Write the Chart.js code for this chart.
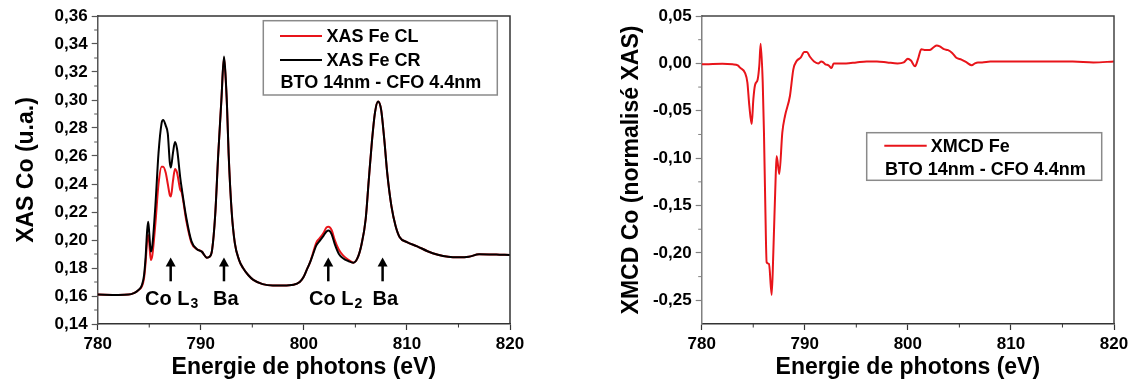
<!DOCTYPE html>
<html><head><meta charset="utf-8">
<script src="https://cdn.jsdelivr.net/npm/chart.js@4"></script>
<style>
body{margin:0;background:#fff;width:1135px;height:386px;overflow:hidden;position:relative}
#c1{position:absolute;left:0;top:0}
#c2{position:absolute;left:580px;top:0}
</style>
</head><body>
<canvas id="c1" width="560" height="386"></canvas>
<canvas id="c2" width="555" height="386"></canvas>
<script>
// ---------- DATA ----------
const energyXAS = [780,782,783,783.5,784,784.3,784.5,784.65,784.8,784.9,785.0,785.15,785.3,785.6,785.9,786.2,786.35,786.6,786.8,787.0,787.1,787.3,787.5,787.7,788.0,788.15,788.6,789.1,789.6,790.1,790.6,790.85,791.1,791.4,791.7,792.0,792.25,792.4,792.55,792.7,793.0,793.3,793.7,794.1,794.6,795.1,796,797,798,799,799.6,800.0,800.3,800.6,800.9,801.2,801.5,801.9,802.2,802.4,802.7,803.0,803.4,803.8,804.3,804.8,805.2,805.6,806.0,806.3,806.6,806.9,807.2,807.5,807.8,808.1,808.5,808.9,809.3,810,811,812,813,814,815,816,817,818,819,820];
const xasCR = [0.161,0.1608,0.161,0.162,0.1645,0.168,0.175,0.188,0.207,0.213,0.205,0.1917,0.196,0.225,0.262,0.2835,0.2857,0.2817,0.276,0.255,0.2517,0.262,0.270,0.265,0.245,0.237,0.2157,0.199,0.1936,0.1917,0.1874,0.188,0.193,0.218,0.262,0.300,0.331,0.318,0.295,0.262,0.220,0.198,0.186,0.180,0.175,0.1715,0.1685,0.1675,0.1675,0.168,0.170,0.174,0.179,0.184,0.190,0.196,0.199,0.203,0.206,0.2067,0.204,0.197,0.190,0.187,0.185,0.1838,0.187,0.197,0.215,0.243,0.270,0.291,0.299,0.293,0.272,0.247,0.224,0.210,0.202,0.1985,0.1955,0.192,0.1895,0.188,0.1876,0.188,0.1898,0.1897,0.1895,0.1893];
const xasCL = [0.161,0.1608,0.161,0.162,0.1645,0.167,0.173,0.184,0.200,0.2036,0.198,0.1857,0.189,0.212,0.240,0.2524,0.2524,0.248,0.240,0.232,0.231,0.242,0.2507,0.248,0.236,0.234,0.2136,0.198,0.1936,0.1917,0.1874,0.188,0.193,0.218,0.262,0.300,0.330,0.317,0.294,0.262,0.220,0.198,0.186,0.180,0.175,0.1715,0.1685,0.1675,0.1675,0.168,0.170,0.174,0.179,0.184,0.191,0.198,0.201,0.205,0.209,0.2095,0.207,0.200,0.193,0.189,0.186,0.1838,0.187,0.197,0.215,0.243,0.270,0.291,0.299,0.293,0.272,0.247,0.224,0.210,0.202,0.1985,0.1955,0.192,0.1895,0.188,0.1876,0.188,0.1898,0.1897,0.1895,0.1893];

const energyXMCD = [780,782,783,783.5,783.72,784.2,784.43,784.62,784.85,785.01,785.17,785.43,785.59,785.72,785.92,786.04,786.17,786.3,786.53,786.79,786.95,787.18,787.27,787.53,787.82,788.08,788.56,788.89,789.21,789.6,789.95,790.2,790.5,790.9,791.3,791.6,791.8,792.0,792.3,792.6,792.8,793.2,794,795,796,797,798,799,799.6,800.0,800.3,800.7,801.0,801.3,801.7,802.1,802.5,802.8,803.1,803.5,803.9,804.3,804.7,805.2,805.7,806.2,806.5,806.8,807.2,808,810,812,814,816,818,820];
const xmcdFe = [-0.001,-0.0005,-0.001,-0.002,-0.0045,-0.010,-0.020,-0.0446,-0.064,-0.038,-0.023,-0.017,-0.002,0.0207,-0.020,-0.0726,-0.150,-0.2098,-0.2116,-0.2442,-0.1993,-0.1186,-0.0976,-0.1168,-0.073,-0.0555,-0.0344,-0.0063,0.0025,0.006,0.012,0.012,0.007,0.002,0.000,0.002,0.001,-0.001,-0.002,-0.005,0.000,0.000,0.000,0.001,0.002,0.002,0.001,0.000,0.001,0.005,0.003,-0.003,0.005,0.015,0.014,0.014,0.017,0.019,0.018,0.015,0.014,0.011,0.006,0.004,0.001,-0.002,0.000,0.001,0.001,0.002,0.002,0.002,0.002,0.002,0.001,0.002];

const xTicks = [780,790,800,810,820];
const xMinorTicks = [785,795,805,815];
const yTicksXAS = [0.14,0.16,0.18,0.20,0.22,0.24,0.26,0.28,0.30,0.32,0.34,0.36];
const yMinorXAS = [0.15,0.17,0.19,0.21,0.23,0.25,0.27,0.29,0.31,0.33,0.35];
const yTicksXMCD = [-0.25,-0.20,-0.15,-0.10,-0.05,0.00,0.05];
const yMinorXMCD = [-0.225,-0.175,-0.125,-0.075,-0.025,0.025];

const annotText = ['Co L','Ba','Co L','Ba'];
const annotSub = ['3','','2',''];
const annotArrowX = [787.08,792.25,802.37,807.64];
const annotTextX = [787.18,792.42,803.09,807.9];

const legendXAS = ['XAS Fe CL','XAS Fe CR','BTO 14nm - CFO 4.4nm'];
const legendXMCD = ['XMCD Fe','BTO 14nm - CFO 4.4nm'];

// ---------- HELPERS ----------
const FONT = "'Liberation Sans', Arial, sans-serif";
Chart.defaults.font.family = FONT;
Chart.defaults.color = '#000';
const RED = '#e8141a';

function pts(xs, ys){ return xs.map((x,i)=>({x:x, y:ys[i]})); }
function fmt(v){ return (Math.abs(v)<1e-9?0:v).toFixed(2).replace('.', ','); }

function frameAndMinor(minorX, minorY, frameColor){
  return {
    id:'frameMinor',
    afterDraw(chart){
      const {ctx, chartArea:a, scales} = chart;
      ctx.save();
      ctx.strokeStyle = frameColor; ctx.lineWidth = 1.5;
      ctx.beginPath();
      ctx.moveTo(a.left, a.top); ctx.lineTo(a.right, a.top); ctx.lineTo(a.right, a.bottom);
      ctx.stroke();
      ctx.lineWidth = 1;
      ctx.strokeStyle = scales.x.options.grid.tickColor;
      minorX.forEach(v=>{ const p = scales.x.getPixelForValue(v); ctx.beginPath(); ctx.moveTo(p, a.bottom); ctx.lineTo(p, a.bottom+3.5); ctx.stroke(); });
      ctx.strokeStyle = scales.y.options.grid.tickColor;
      minorY.forEach(v=>{ const p = scales.y.getPixelForValue(v); ctx.beginPath(); ctx.moveTo(a.left, p); ctx.lineTo(a.left-3.5, p); ctx.stroke(); });
      ctx.restore();
    }
  };
}

function legendPlugin(box, rows){
  return {
    id:'boxLegend',
    afterDraw(chart){
      const ctx = chart.ctx;
      ctx.save();
      ctx.fillStyle = '#fff';
      ctx.fillRect(box[0], box[1], box[2]-box[0], box[3]-box[1]);
      ctx.strokeStyle = '#8a8a8a'; ctx.lineWidth = 1.5;
      ctx.strokeRect(box[0], box[1], box[2]-box[0], box[3]-box[1]);
      ctx.font = 'bold 18px ' + FONT;
      ctx.textBaseline = 'middle';
      ctx.fillStyle = '#000';
      rows.forEach(r=>{
        if (r.color){
          ctx.strokeStyle = r.color; ctx.lineWidth = 2;
          ctx.beginPath(); ctx.moveTo(r.lx1, r.y); ctx.lineTo(r.lx2, r.y); ctx.stroke();
        }
        ctx.fillText(r.text, r.tx, r.y+1);
      });
      ctx.restore();
    }
  };
}

const annotPlugin = {
  id:'annot',
  afterDatasetsDraw(chart){
    const {ctx, scales:{x,y}} = chart;
    ctx.save();
    ctx.fillStyle = '#000'; ctx.strokeStyle = '#000';
    annotArrowX.forEach((ax,i)=>{
      const px = x.getPixelForValue(ax);
      const top = y.getPixelForValue(0.1875), bot = y.getPixelForValue(0.1705);
      ctx.lineWidth = 2.5;
      ctx.beginPath(); ctx.moveTo(px, top+6); ctx.lineTo(px, bot); ctx.stroke();
      ctx.beginPath(); ctx.moveTo(px, top); ctx.lineTo(px-5, top+9); ctx.lineTo(px+5, top+9); ctx.closePath(); ctx.fill();
      const tx = x.getPixelForValue(annotTextX[i]);
      const ty = y.getPixelForValue(0.1536);
      ctx.textBaseline = 'alphabetic';
      ctx.font = 'bold 20px ' + FONT;
      const w1 = ctx.measureText(annotText[i]).width;
      ctx.font = 'bold 14px ' + FONT;
      const w2 = annotSub[i] ? ctx.measureText(annotSub[i]).width + 1 : 0;
      const sx = tx - (w1+w2)/2;
      ctx.font = 'bold 20px ' + FONT;
      ctx.fillText(annotText[i], sx, ty);
      if (annotSub[i]){ ctx.font = 'bold 14px ' + FONT; ctx.fillText(annotSub[i], sx + w1 + 1, ty + 3); }
    });
    ctx.restore();
  }
};

function makeOptions(cfg){
  return {
    responsive:false, animation:false, events:[],
    layout:{padding:{left:0, right:cfg.padRight, top:16, bottom:0}},
    plugins:{legend:{display:false}, tooltip:{enabled:false}},
    elements:{point:{radius:0}, line:{borderWidth:2, cubicInterpolationMode:'monotone'}},
    scales:{
      x:{type:'linear', min:780, max:820,
        afterBuildTicks:s=>{ s.ticks = xTicks.map(v=>({value:v})); },
        afterFit:s=>{ s.height = 62; },
        grid:{drawOnChartArea:false, tickLength:6, tickColor:'#333', tickWidth:1.2},
        border:{color:'#333', width:1.5},
        ticks:{font:{size:17, weight:'bold'}, padding:4, maxRotation:0, color:'#000', callback:v=>String(v)},
        title:{display:true, text:'Energie de photons (eV)', font:{size:23, weight:'bold'}, padding:{bottom:5, top:0}, color:'#000'}
      },
      y:{type:'linear', min:cfg.ymin, max:cfg.ymax,
        afterBuildTicks:s=>{ s.ticks = cfg.yTicks.map(v=>({value:v})); },
        afterFit:s=>{ s.width = cfg.yWidth; },
        grid:{drawOnChartArea:false, tickLength:6, tickColor:cfg.yColor, tickWidth:1.2},
        border:{color:cfg.yColor, width:1.5},
        ticks:{font:{size:17, weight:'bold'}, padding:4, color:'#000', callback:v=>fmt(v)},
        title:{display:true, text:cfg.yTitle, font:{size:23, weight:'bold'}, padding:{top:cfg.titlePad, bottom:0}, color:'#000'}
      }
    }
  };
}

new Chart(document.getElementById('c1'), {
  type:'line',
  data:{datasets:[
    {label:legendXAS[0], data:pts(energyXAS, xasCL), borderColor:RED, order:1},
    {label:legendXAS[1], data:pts(energyXAS, xasCR), borderColor:'#000', order:0}
  ]},
  options:makeOptions({padRight:50, ymin:0.14, ymax:0.36, yTicks:yTicksXAS, yWidth:97.7, yColor:'#555', yTitle:'XAS Co (u.a.)', titlePad:13}),
  plugins:[frameAndMinor(xMinorTicks, yMinorXAS, '#333'), annotPlugin,
    legendPlugin([263.3,20.7,497.3,95], [
      {color:RED, lx1:280, lx2:322, y:36, text:legendXAS[0], tx:326.5},
      {color:'#000', lx1:280, lx2:322, y:60, text:legendXAS[1], tx:326.5},
      {text:legendXAS[2], tx:280.5, y:82.5}
    ])]
});

new Chart(document.getElementById('c2'), {
  type:'line',
  data:{datasets:[
    {label:legendXMCD[0], data:pts(energyXMCD, xmcdFe), borderColor:RED}
  ]},
  options:makeOptions({padRight:21, ymin:-0.275, ymax:0.05, yTicks:yTicksXMCD, yWidth:121.7, yColor:'#808080', yTitle:'XMCD Co (normalisé XAS)', titlePad:38}),
  plugins:[frameAndMinor(xMinorTicks, yMinorXMCD, '#444'),
    legendPlugin([286.7,132.7,521.7,180.3], [
      {color:RED, lx1:304.3, lx2:346.7, y:145.7, text:legendXMCD[0], tx:350.7},
      {text:legendXMCD[1], tx:305, y:169.3}
    ])]
});
</script>
</body></html>
